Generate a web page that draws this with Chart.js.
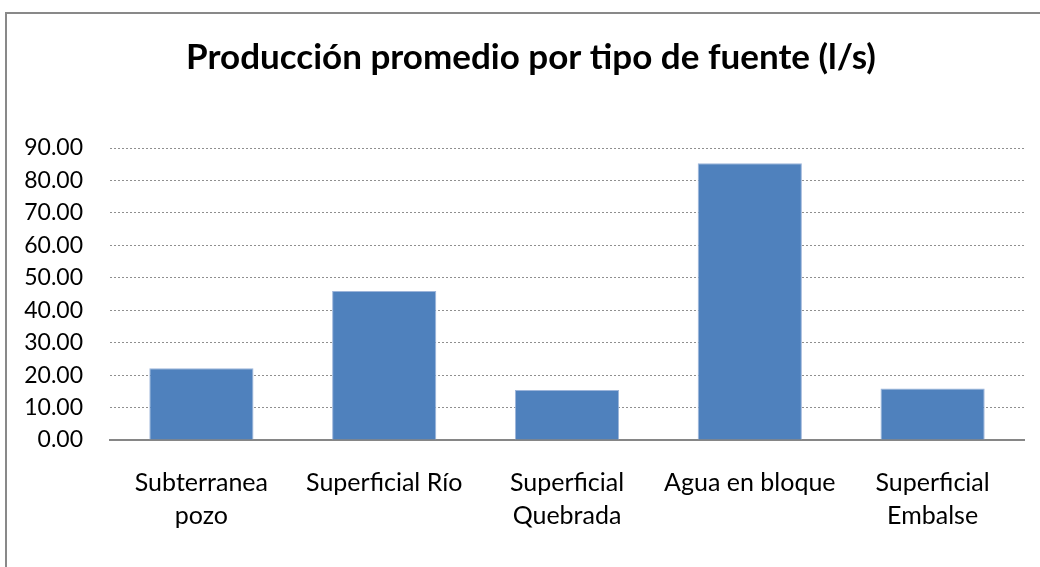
<!DOCTYPE html>
<html>
<head>
<meta charset="utf-8">
<script src="https://cdn.jsdelivr.net/npm/chart.js@4.4.1/dist/chart.umd.min.js"></script>
<style>
  html, body { margin: 0; padding: 0; background: #fff; }
  #wrap { position: relative; width: 1040px; height: 567px; overflow: hidden; }
  #box { position: absolute; left: 5px; top: 12px; width: 1200px; height: 800px; border: 2px solid #898989; box-sizing: border-box; }
  #c { position: absolute; left: 0; top: 0; }
</style>
</head>
<body>
<div id="wrap">
  <div id="box"></div>
  <canvas id="c" width="1040" height="567"></canvas>
</div>
<script>
const titleText = 'Producción promedio por tipo de fuente (l/s)';
const categories = [['Subterranea', 'pozo'], 'Superficial Río', ['Superficial', 'Quebrada'], 'Agua en bloque', ['Superficial', 'Embalse']];
const values = [22.1, 45.9, 15.4, 85.3, 15.9];
const yMin = 0;
const yMax = 90;
const yStep = 10;

const FONT = 'Lato, "Open Sans", sans-serif';

const titlePlugin = {
  id: 'fixedTitle',
  afterDraw(chart) {
    const ctx = chart.ctx;
    ctx.save();
    ctx.fillStyle = '#000';
    ctx.font = 'bold 35px ' + FONT;
    ctx.textAlign = 'center';
    ctx.textBaseline = 'middle';
    ctx.fillText(titleText, 531, 58);
    ctx.restore();
  }
};

new Chart(document.getElementById('c'), {
  type: 'bar',
  data: {
    labels: categories,
    datasets: [{
      data: values,
      backgroundColor: '#4F81BD',
      borderColor: '#9DB5DA',
      borderWidth: 1,
      categoryPercentage: 1,
      barPercentage: 0.57
    }]
  },
  options: {
    responsive: false,
    animation: false,
    layout: { padding: { left: 0, right: 16, top: 148, bottom: 0 } },
    plugins: {
      legend: { display: false },
      tooltip: { enabled: false },
      title: { display: false }
    },
    scales: {
      x: {
        grid: { display: false, drawTicks: false },
        border: { display: true, color: '#868686', width: 2 },
        ticks: {
          color: '#000',
          font: { family: FONT, size: 25, lineHeight: '33px' },
          padding: 26,
          maxRotation: 0,
          autoSkip: false
        },
        afterFit: (s) => { s.height = 127; }
      },
      y: {
        min: yMin,
        max: yMax,
        grid: { color: '#8f8f8f', lineWidth: 1, drawTicks: false },
        border: { display: false, dash: [2, 2] },
        ticks: {
          stepSize: yStep,
          color: '#000',
          font: { family: FONT, size: 23 },
          padding: 27,
          callback: (v) => Number(v).toFixed(2)
        },
        afterFit: (s) => { s.width = 110; }
      }
    }
  },
  plugins: [titlePlugin]
});
</script>
</body>
</html>
